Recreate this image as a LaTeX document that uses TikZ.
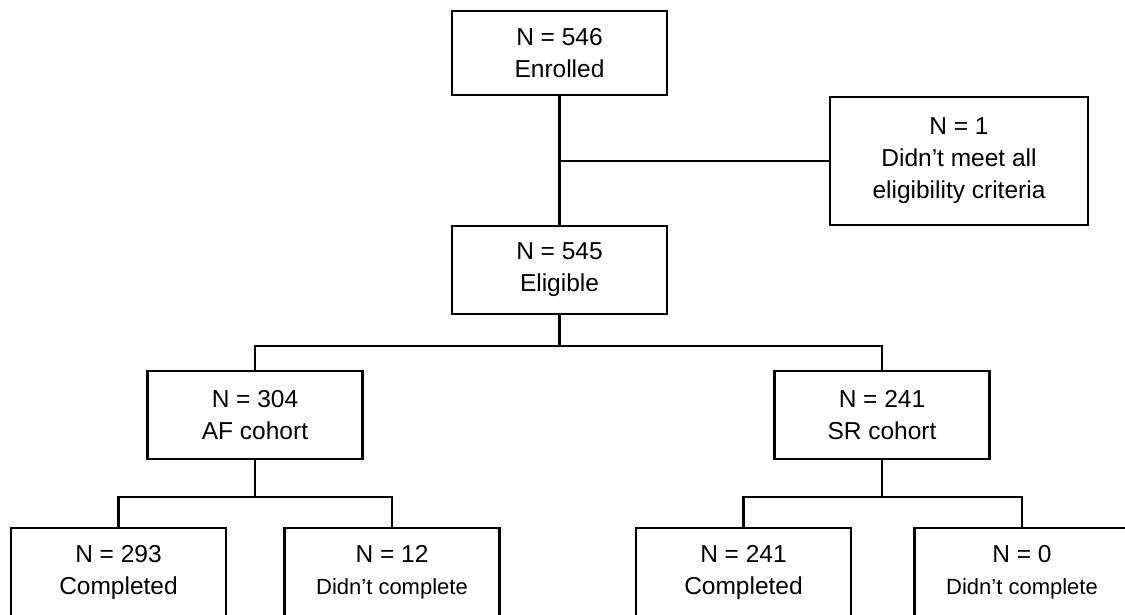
\documentclass[tikz,border=0pt]{standalone}
\usepackage{fontspec}
\setmainfont{Liberation Sans}
\newcommand{\dropnote}[1]{{\fontsize{22}{32}\selectfont #1}}

\begin{document}
\begin{tikzpicture}[line width=2.7pt, every node/.style={align=center},
  stage/.style={draw, minimum width=215pt, minimum height=88pt, inner sep=0pt, font=\fontsize{24.5}{32}\selectfont}]
\fill[white] (0,0) rectangle (1125pt,-614pt);
\useasboundingbox (0,0) rectangle (1125pt,-614pt);

\node (enrolled) [stage, minimum height=84pt] at (559.5pt,-53pt) {N = 546\\Enrolled};
\node (eligible) [stage, below of=enrolled, node distance=217pt] {N = 545\\Eligible};
\node (exclude) [stage, minimum width=258pt, minimum height=128pt, below of=enrolled, node distance=108pt, xshift=399.5pt] {N = 1\\Didn’t meet all\\eligibility criteria};
\node (af) [stage, below of=eligible, node distance=145pt, xshift=-304.5pt] {N = 304\\AF cohort};
\node (sr) [stage, below of=eligible, node distance=145pt, xshift=322.5pt] {N = 241\\SR cohort};
\node (afdone) [stage, below of=af, node distance=157pt, xshift=-136.5pt] {N = 293\\Completed};
\node (afdrop) [stage, below of=af, node distance=157pt, xshift=137pt] {N = 12\\\dropnote{Didn’t complete}};
\node (srdone) [stage, below of=sr, node distance=157pt, xshift=-138.5pt] {N = 241\\Completed};
\node (srdrop) [stage, below of=sr, node distance=157pt, xshift=140pt] {N = 0\\\dropnote{Didn’t complete}};

\coordinate [below of=eligible, node distance=76pt] (elsplit);
\coordinate [below of=af, node distance=82pt] (afsplit);
\coordinate [below of=sr, node distance=82pt] (srsplit);

\draw (enrolled) -- (eligible);
\draw (enrolled |- exclude) -- (exclude);
\draw (eligible) -- (elsplit);
\draw (af) |- (elsplit) -| (sr);
\draw (af) -- (afsplit);
\draw (afdone) |- (afsplit) -| (afdrop);
\draw (sr) -- (srsplit);
\draw (srdone) |- (srsplit) -| (srdrop);
\end{tikzpicture}
\end{document}
